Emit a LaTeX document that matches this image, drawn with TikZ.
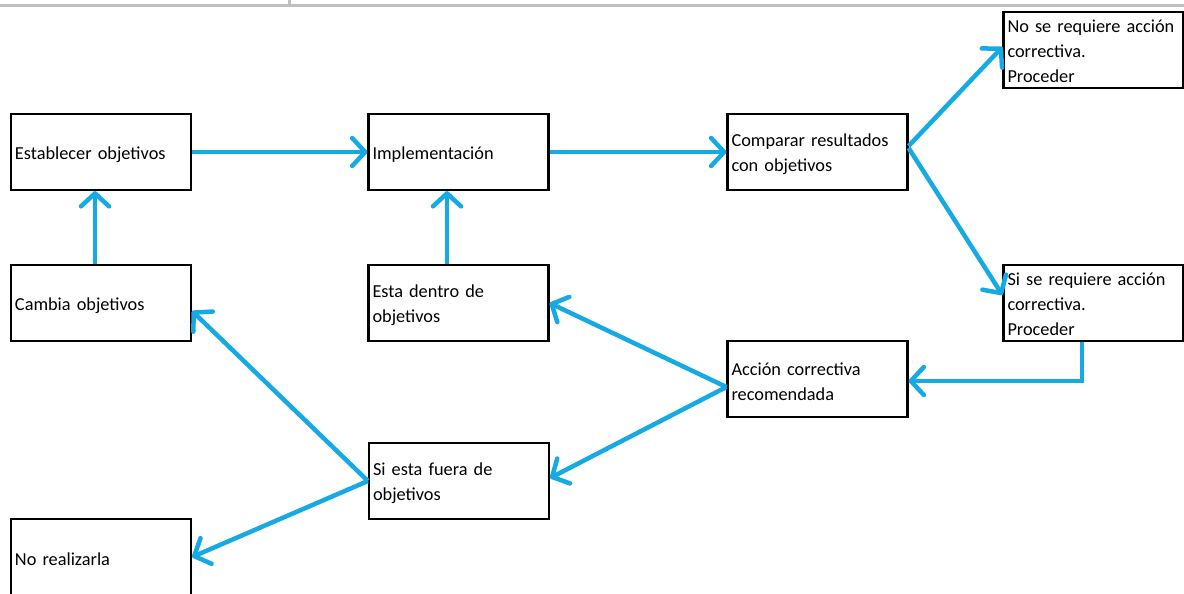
\documentclass[tikz,border=0pt]{standalone}
\usepackage{fontspec}
\setmainfont{Carlito}
\usetikzlibrary{arrows.meta}
\definecolor{arrowblue}{RGB}{22,170,228}
\definecolor{topgray}{RGB}{192,192,192}
\begin{document}
\begin{tikzpicture}[x=1pt,y=-1pt,
  box/.style={draw=black, line width=2.2pt, minimum width=180pt, minimum height=76pt,
    inner sep=0pt},
  txt/.style={text width=175pt, inner sep=0pt, align=left, xshift=1.5pt,
    font=\fontsize{18.3}{25}\selectfont},
  flow/.style={draw=arrowblue, line width=4.5pt, line join=miter,
    -{Straight Barb[length=13pt,width=28pt,round]}},
  topline/.style={draw=topgray, line width=2.7pt}]
\useasboundingbox (0,0) rectangle (1184,594);
\coordinate (tl) at (0,5.3);
\coordinate (tr) at (1184,5.3);
\coordinate (tdiv) at (289.5,0);
\coordinate (tdivb) at (289.5,5.3);
\draw[topline] (tl) -- (tr);
\draw[topline] (tdiv) -- (tdivb);

\node[box] (est) at (101,152) {};
\node[box] (imp) at (458.5,152) {};
\node[box] (comp) at (817.5,152) {};
\node[box] (nosr) at (1093.5,50) {};
\node[box] (sisr) at (1093.5,303) {};
\node[box] (camb) at (101,303) {};
\node[box] (dentro) at (458.5,303) {};
\node[box] (accion) at (817.5,379) {};
\node[box] (fuera) at (459,481) {};
\node[box] (noreal) at (101,557) {};

\node[txt] (estT) at ([yshift=-2.5pt]est.center) {Establecer objetivos};
\node[txt] (impT) at ([yshift=-2.5pt]imp.center) {Implementación};
\node[txt] (compT) at ([yshift=-2.5pt]comp.center) {Comparar resultados\\con objetivos};
\node[txt] (nosrT) at ([yshift=-1pt]nosr.center) {No se requiere acción\\correctiva.\\Proceder};
\node[txt] (sisrT) at ([yshift=-1pt]sisr.center) {Si se requiere acción\\correctiva.\\Proceder};
\node[txt] (cambT) at ([yshift=-2.5pt]camb.center) {Cambia objetivos};
\node[txt] (dentroT) at ([yshift=-2.5pt]dentro.center) {Esta dentro de\\objetivos};
\node[txt] (accionT) at ([yshift=-2.5pt]accion.center) {Acción correctiva\\recomendada};
\node[txt] (fueraT) at ([yshift=-2.5pt]fuera.center) {Si esta fuera de\\objetivos};
\node[txt] (norealT) at ([yshift=-2.5pt]noreal.center) {No realizarla};

\draw[flow] (est.east) -- (imp.west);
\draw[flow] (imp.east) -- (comp.west);
\draw[flow] ([yshift=6pt]comp.east) -- ([yshift=3pt]nosr.west);
\draw[flow] ([yshift=4pt]comp.east) -- ([yshift=8pt]sisr.west);
\draw[flow] ([xshift=-11.5pt]sisr.south) |- ([yshift=-2pt]accion.east);
\draw[flow] ([yshift=-8pt]accion.west) -- (dentro.east);
\draw[flow] ([yshift=-8pt]accion.west) -- ([yshift=3pt]fuera.east);
\draw[flow] (fuera.west) -- ([yshift=-8pt]camb.east);
\draw[flow] (fuera.west) -- (noreal.east);
\draw[flow] ([xshift=-6pt]camb.north) -- ([xshift=-6pt]est.south);
\draw[flow] ([xshift=-11.5pt]dentro.north) -- ([xshift=-11.5pt]imp.south);
\end{tikzpicture}
\end{document}
